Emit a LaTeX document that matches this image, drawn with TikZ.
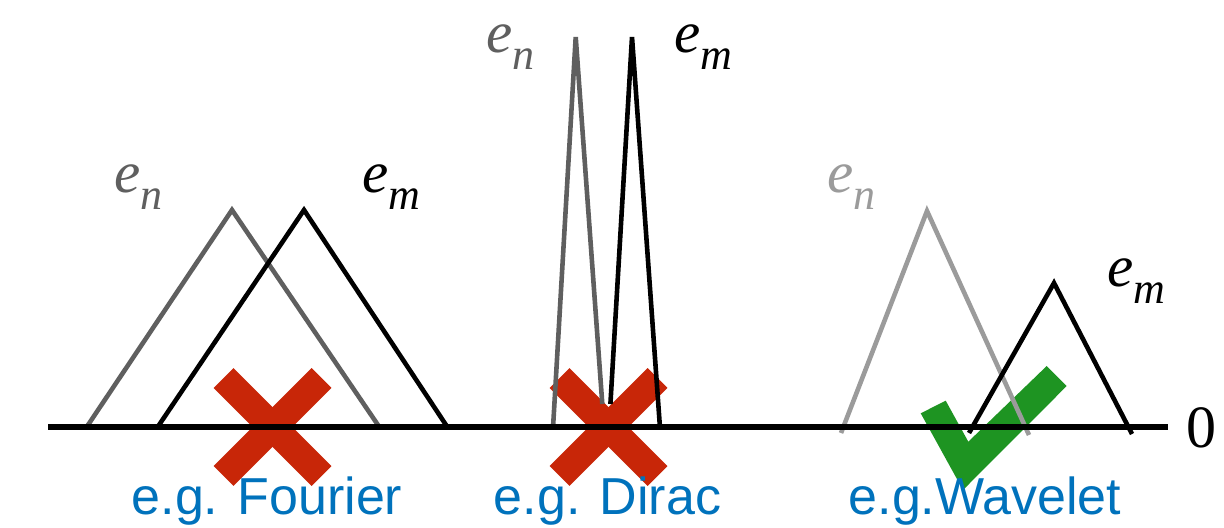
\documentclass[tikz,border=0pt]{standalone}
\usepackage{fontspec}
\setmainfont{Liberation Sans}
\newfontfamily\serifit{Liberation Serif}
\usepackage{tikz}
\usepackage{xcolor}
\usetikzlibrary{positioning}
\definecolor{basisgrey}{RGB}{95,95,95}
\definecolor{basislight}{RGB}{155,155,155}
\definecolor{crossred}{RGB}{200,38,8}
\definecolor{tickgreen}{RGB}{30,148,34}
\definecolor{egblue}{RGB}{0,114,188}
\newcommand{\elab}[1]{\textit{e}\raisebox{-8.5pt}{\fontsize{22}{22}\selectfont\textit{#1}}}

\begin{document}
\begin{tikzpicture}[x=0.5pt, y=-0.5pt,
    basis/.style={line width=2.3pt, line join=miter},
    axisline/.style={line width=2.5pt},
    cross/.style={crossred, line width=14pt},
    lab/.style={inner sep=0pt, anchor=base west,
                font=\serifit\fontsize{29.5}{29.5}\selectfont},
    eg/.style={inner sep=0pt, anchor=base, text=egblue,
               font=\fontsize{26}{26}\selectfont}
]
    \useasboundingbox (0,0) rectangle (1224,528);

    \foreach \cx in {272.5, 608.5} {
        \draw[cross] ({\cx-49},378) -- ({\cx+49},476);
        \draw[cross] ({\cx-49},476) -- ({\cx+49},378);
    }
    \fill[tickgreen] (920.7,413.3) -- (945.7,400.7) -- (968.3,441.7)
        -- (1046.7,366) -- (1066.7,386) -- (963,490) -- cycle;

    \draw[basis, basisgrey] (86,428) -- (232,210) -- (380,428);
    \draw[basis, black] (157,428) -- (304,210) -- (448,428);
    \draw[basis, basisgrey] (553,428) -- (575.7,37) -- (602.3,404);
    \draw[basis, black] (610.4,404) -- (632,37) -- (660,428);
    \draw[basis, basislight] (841,433) -- (927,211) -- (1029,435);
    \draw[basis, black] (969,433) -- (1054,283) -- (1132,434);

    \draw[axisline] (48,427) -- (1168,427);

    \node[lab, text=basisgrey] (enl) at (114,193) {\elab{n}};
    \node[lab] (eml) at (362,193) {\elab{m}};
    \node[lab, text=basisgrey] (enm) at (486,53) {\elab{n}};
    \node[lab] (emm) at (674,53) {\elab{m}};
    \node[lab, text=basislight] (enr) at (827,193) {\elab{n}};
    \node[lab] (emr) at (1107,287) {\elab{m}};
    \node[inner sep=0pt, anchor=base, font=\serifit\fontsize{30}{30}\selectfont]
        (zero) at (1201,447) {0};

    \node[eg] (egf) at (267,514) {e.g. Fourier};
    \node[eg] (egd) at (607.5,514) {e.g. Dirac};
    \node[eg] (egw) at (985,514) {e.g.Wavelet};
\end{tikzpicture}
\end{document}
